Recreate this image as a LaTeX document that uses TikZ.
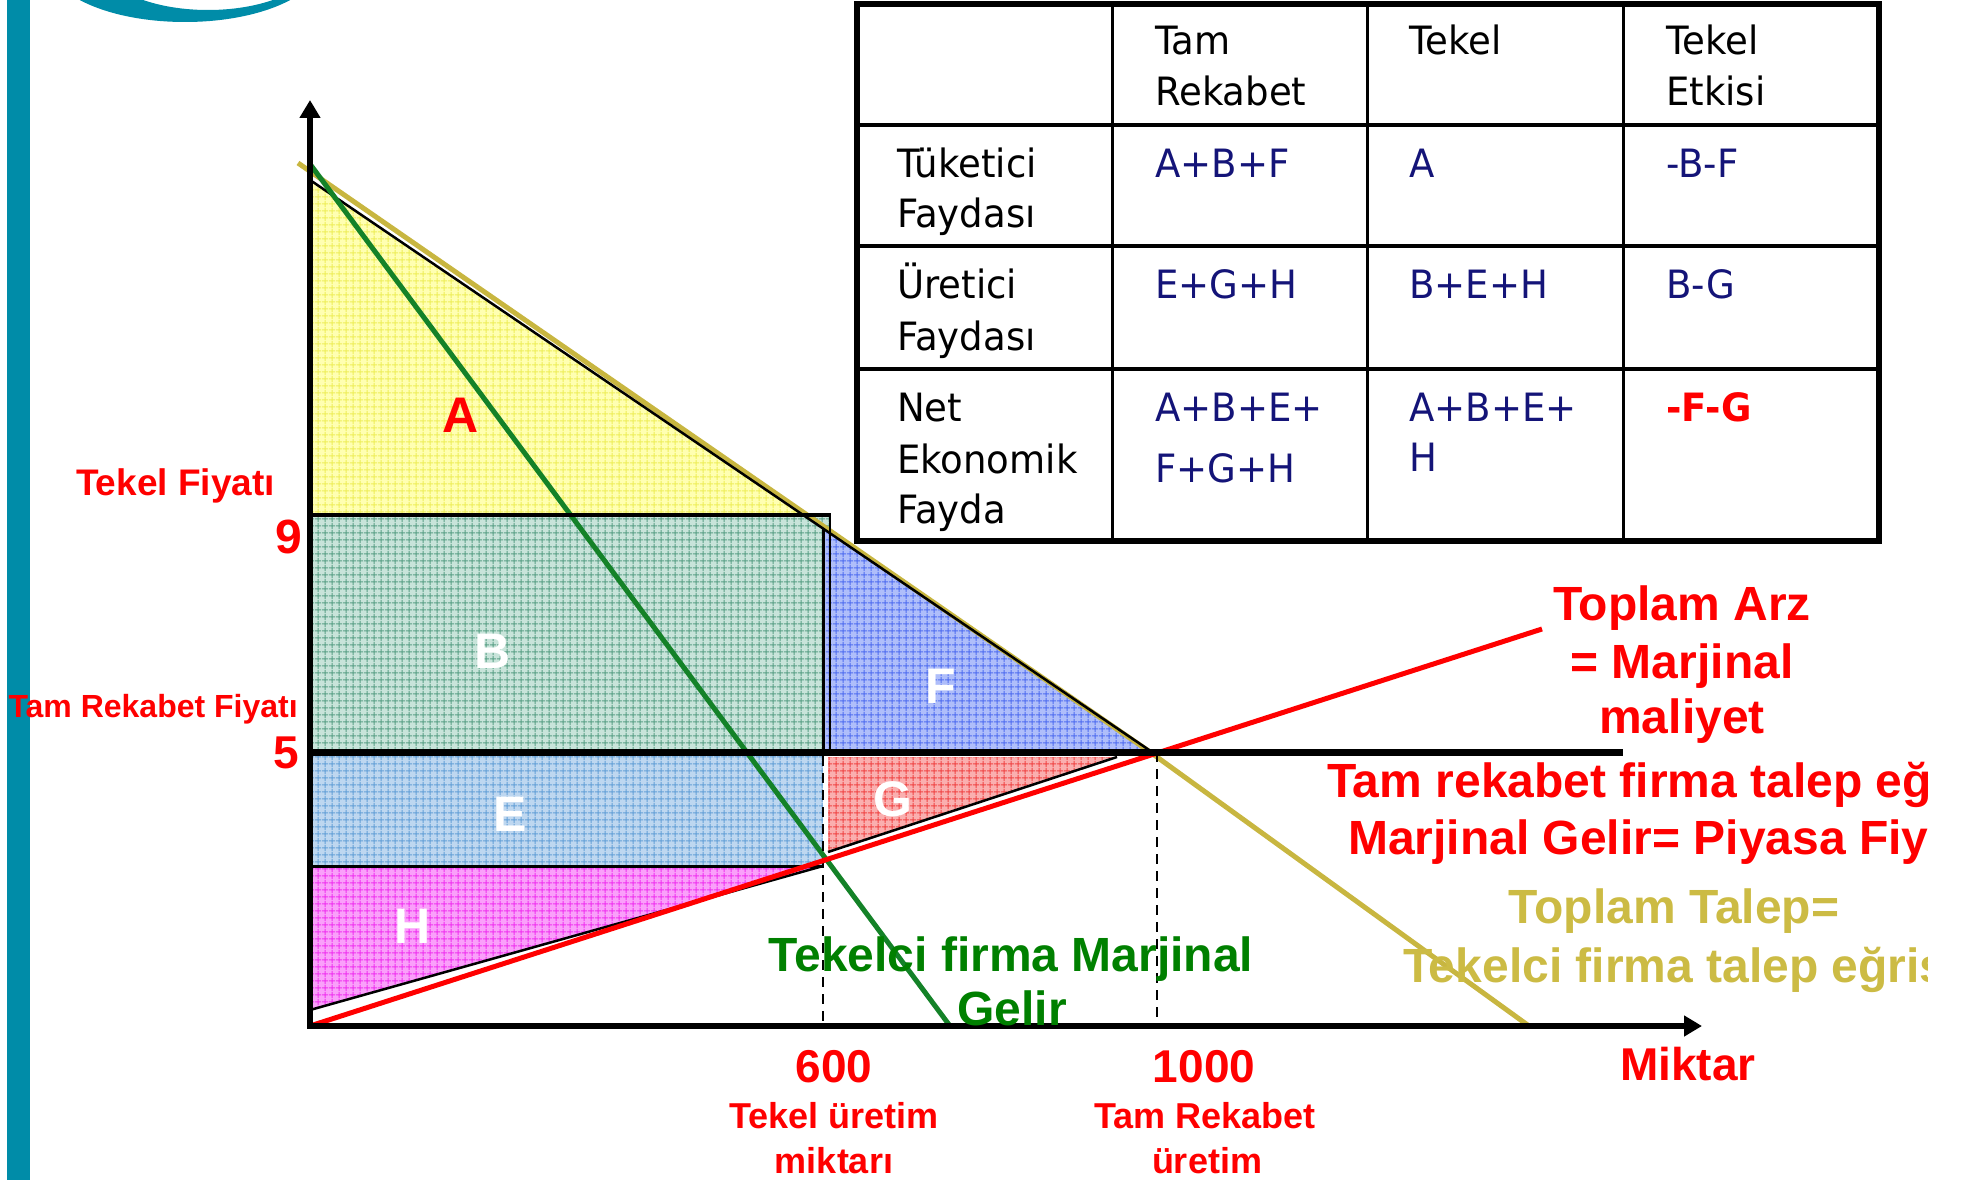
\documentclass[tikz,border=0pt]{standalone}
\usepackage{fontspec}
\setmainfont{Liberation Sans}
\newfontfamily\tabfont[FakeStretch=0.95]{DejaVu Sans}
\usetikzlibrary{arrows.meta,patterns.meta}
\definecolor{tealbar}{RGB}{0,140,168}
\definecolor{navyv}{RGB}{20,20,120}
\definecolor{olivel}{RGB}{200,182,64}
\definecolor{olivet}{RGB}{204,187,68}
\definecolor{greenl}{RGB}{20,130,40}
\definecolor{greent}{RGB}{0,128,0}
\definecolor{Abase}{RGB}{255,255,178}
\definecolor{Aline}{RGB}{238,238,90}
\definecolor{Bbase}{RGB}{200,228,218}
\definecolor{Bline}{RGB}{90,160,135}
\definecolor{Ebase}{RGB}{190,215,240}
\definecolor{Eline}{RGB}{100,160,215}
\definecolor{Fbase}{RGB}{175,190,250}
\definecolor{Fline}{RGB}{80,110,240}
\definecolor{Gbase}{RGB}{250,175,175}
\definecolor{Gline}{RGB}{240,70,70}
\definecolor{Hbase}{RGB}{250,160,250}
\definecolor{Hline}{RGB}{240,50,240}
\tikzdeclarepattern{
  name=gridpat,
  type=uncolored,
  bounding box={(0pt,0pt) and (7pt,7pt)},
  tile size={(7pt,7pt)},
  code={
    \pgfsetlinewidth{1.2pt}
    \pgfpathmoveto{\pgfpoint{0pt}{3.5pt}}\pgfpathlineto{\pgfpoint{7pt}{3.5pt}}
    \pgfpathmoveto{\pgfpoint{3.5pt}{0pt}}\pgfpathlineto{\pgfpoint{3.5pt}{7pt}}
    \pgfusepath{stroke}
  }
}
\tikzset{
  region/.style 2 args={fill=#1, postaction={pattern=gridpat, pattern color=#2}},
  redlab/.style={text=red, inner sep=0pt, font=\bfseries\fontsize{46}{55}\selectfont},
  biglab/.style={redlab, font=\bfseries\fontsize{48}{57}\selectfont},
  smalllab/.style={redlab, anchor=base, font=\bfseries\fontsize{36}{43}\selectfont},
  arealab/.style={inner sep=0pt, font=\bfseries\fontsize{50}{60}\selectfont},
  tabtxt/.style={anchor=base west, inner sep=0pt, font=\tabfont\fontsize{39}{47}\selectfont},
  tabval/.style={tabtxt, text=navyv},
  axisline/.style={line width=5.5pt, -{Triangle[width=20pt,length=18pt]}},
  guide/.style={line width=2pt, dash pattern=on 10pt off 7pt},
}
\begin{document}
\begin{tikzpicture}[x=1pt,y=-1pt]
\useasboundingbox (0,0) rectangle (1962,1180);
% left bar and logo arc
\fill[tealbar] (7,0) rectangle (30,1180);
\begin{scope}
  \clip (0,0) rectangle (400,60);
  \fill[tealbar, even odd rule] (185,-38) ellipse [x radius=136, y radius=60]
                                (208,-40) ellipse [x radius=108, y radius=50];
\end{scope}
% coordinates
\coordinate (O) at (310,1026);
\coordinate (Ytop) at (310,100);
\coordinate (Xend) at (1702,1026);
% regions
\fill[region={Abase}{Aline}] (310,180) -- (310,515) -- (806,515) -- cycle;
\fill[region={Bbase}{Bline}] (310,515) rectangle (830,752);
\fill[region={Fbase}{Fline}] (823,528) -- (823,752) -- (1152,752) -- cycle;
\fill[region={Ebase}{Eline}] (310,752) rectangle (823,866);
\fill[region={Gbase}{Gline}] (828,757) -- (828,852) -- (1117,757) -- cycle;
\fill[region={Hbase}{Hline}] (310,866) -- (823,866) -- (310,1010) -- cycle;
% curves
\draw[olivel, line width=5pt] (298,163) -- (1150,752) -- (1529,1026);
\draw[line width=2.5pt] (310,180) -- (1152,752);
\draw[greenl, line width=5pt] (310,164) -- (950,1026);
% region borders
\draw[line width=3.5pt] (310,515) -- (831,515);
\draw[line width=1.5pt] (830,515) -- (830,752);
\draw[line width=3pt] (823,528) -- (823,752);
\draw[line width=3pt] (310,866) -- (823,866);
\draw[line width=2.5pt] (310,1010) -- (823,866);
\draw[line width=2.5pt] (828,852) -- (1117,757);
\draw[guide] (823,756) -- (823,1026);
\draw[guide] (1157,752) -- (1157,1026);
% supply
\draw[red, line width=5pt] (O) -- (1542,629);
% price line at 5
\draw[line width=7pt] (310,752) -- (1623,752);
% axes
\draw[axisline] (O) -- (Ytop);
\draw[axisline] ([xshift=-3pt]O) -- (Xend);
% axis labels
\node[redlab, anchor=base east, font=\bfseries\fontsize{37}{44}\selectfont] (tfl) at (275,495) {Tekel Fiyatı};
\node[redlab, anchor=base east, font=\bfseries\fontsize{32}{38}\selectfont] (trf) at (298,717) {Tam Rekabet Fiyatı};
\node[redlab, anchor=base east, font=\bfseries\fontsize{48}{56}\selectfont] (p9) at (302,553) {9};
\node[redlab, anchor=base east, font=\bfseries\fontsize{46}{56}\selectfont] (p5) at (299,768) {5};
% area letters
\node[arealab, text=red] (la) at (461,415) {A};
\node[arealab, text=white] (lb) at (493,651) {B};
\node[arealab, text=white] (le) at (510,814) {E};
\node[arealab, text=white] (lh) at (413,926) {H};
\node[arealab, text=white] (lf) at (941,686) {F};
\node[arealab, text=white] (lg) at (893,799) {G};
% right labels
\node[biglab, anchor=base] (ta1) at (1682,620) {Toplam Arz};
\node[biglab, anchor=base] (ta2) at (1682,678) {= Marjinal};
\node[biglab, anchor=base] (ta3) at (1682,733) {maliyet};
\begin{scope}
  \clip (0,0) rectangle (1927,1180);
  \node[biglab, anchor=base west] (tr1) at (1327,797) {Tam rekabet firma talep eğrisi};
  \node[biglab, anchor=base west] (tr2) at (1348,854) {Marjinal Gelir= Piyasa Fiyatı};
  \node[biglab, anchor=base, text=olivet] (tt1) at (1674,923) {Toplam Talep=};
  \node[biglab, anchor=base west, text=olivet] (tt2) at (1403,982) {Tekelci firma talep eğrisi};
\end{scope}
\node[biglab, anchor=base, text=greent] (mr1) at (1011,971) {Tekelci firma Marjinal};
\node[biglab, anchor=base, text=greent] (mr2) at (1012,1025) {Gelir};
\node[redlab, anchor=base west] (mik) at (1620,1080) {Miktar};
\node[redlab, anchor=base] (q600) at (834,1082) {600};
\node[redlab, anchor=base] (q1000) at (1204,1082) {1000};
\node[smalllab] (tu1) at (834,1128) {Tekel üretim};
\node[smalllab] (tu2) at (834,1173) {miktarı};
\node[smalllab] (tr3) at (1205,1128) {Tam Rekabet};
\node[smalllab] (tr4) at (1207,1173) {üretim};
% table
\fill[white] (857,4) rectangle (1879,541);
\draw[line width=3.5pt] (857,125) -- (1879,125) (857,246) -- (1879,246) (857,369) -- (1879,369);
\draw[line width=3pt] (1112,4) -- (1112,541) (1367,4) -- (1367,541) (1623,4) -- (1623,541);
\draw[line width=5.5pt] (857,4) rectangle (1879,541);
\node[tabtxt] (h1a) at (1155,55) {Tam};
\node[tabtxt] (h1b) at (1155,106) {Rekabet};
\node[tabtxt] (h2) at (1409,55) {Tekel};
\node[tabtxt] (h3a) at (1666,55) {Tekel};
\node[tabtxt] (h3b) at (1666,106) {Etkisi};
\node[tabtxt] (r1a) at (897,177) {Tüketici};
\node[tabtxt] (r1b) at (897,227) {Faydası};
\node[tabval] (v11) at (1155,177) {A+B+F};
\node[tabval] (v12) at (1409,177) {A};
\node[tabval] (v13) at (1666,177) {-B-F};
\node[tabtxt] (r2a) at (897,298) {Üretici};
\node[tabtxt] (r2b) at (897,350) {Faydası};
\node[tabval] (v21) at (1155,298) {E+G+H};
\node[tabval] (v22) at (1409,298) {B+E+H};
\node[tabval] (v23) at (1666,298) {B-G};
\node[tabtxt] (r3a) at (897,421) {Net};
\node[tabtxt] (r3b) at (897,473) {Ekonomik};
\node[tabtxt] (r3c) at (897,523) {Fayda};
\node[tabval] (v31a) at (1155,421) {A+B+E+};
\node[tabval] (v31b) at (1155,482) {F+G+H};
\node[tabval] (v32a) at (1409,421) {A+B+E+};
\node[tabval] (v32b) at (1409,471) {H};
\node[tabtxt, text=red, font=\tabfont\bfseries\fontsize{39}{47}\selectfont] (v33) at (1666,421) {-F-G};
\end{tikzpicture}
\end{document}
